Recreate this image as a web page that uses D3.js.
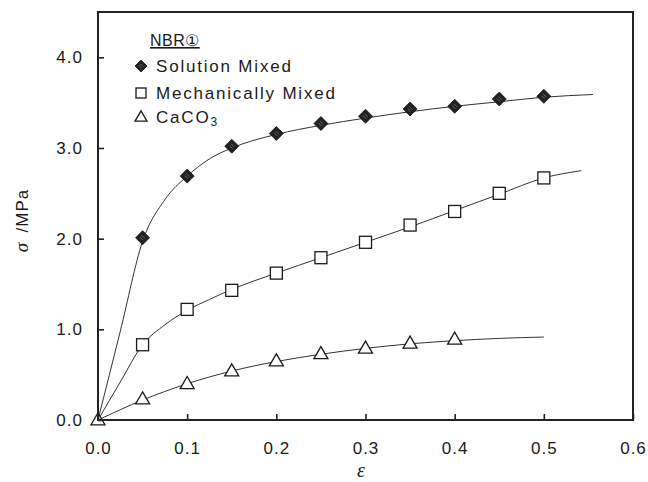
<!DOCTYPE html>
<html>
<head>
<meta charset="utf-8">
<script src="https://cdn.jsdelivr.net/npm/d3@7/dist/d3.min.js"></script>
<style>
  html, body { margin: 0; padding: 0; background: #fff; }
  svg { display: block; }
  text { font-family: "Liberation Sans", Arial, sans-serif; fill: #1a1a1a; }
</style>
</head>
<body>
<svg id="chart" width="648" height="482"></svg>
<script>
// Strain values for measured points
const strain = [0.05, 0.10, 0.15, 0.20, 0.25, 0.30, 0.35, 0.40, 0.45, 0.50];
// Measured stress (MPa)
const solutionMixed = [2.01, 2.69, 3.02, 3.16, 3.27, 3.35, 3.43, 3.46, 3.54, 3.57];
const mechanicallyMixed = [0.83, 1.22, 1.43, 1.62, 1.79, 1.96, 2.15, 2.30, 2.50, 2.67];
const caco3Strain = [0.00, 0.05, 0.10, 0.15, 0.20, 0.25, 0.30, 0.35, 0.40];
const caco3 = [0.00, 0.23, 0.40, 0.54, 0.65, 0.73, 0.79, 0.845, 0.89];

// Fitted curves (strain, stress)
const solutionFitX = [0, 0.025, 0.05, 0.075, 0.10, 0.125, 0.15, 0.20, 0.25, 0.30, 0.35, 0.40, 0.45, 0.50, 0.555];
const solutionFitY = [0, 0.98, 1.97, 2.43, 2.69, 2.88, 3.00, 3.15, 3.25, 3.33, 3.40, 3.46, 3.51, 3.56, 3.59];
const mechanicalFitX = [0, 0.025, 0.05, 0.075, 0.10, 0.125, 0.15, 0.20, 0.25, 0.30, 0.35, 0.40, 0.45, 0.50, 0.542];
const mechanicalFitY = [0, 0.42, 0.83, 1.05, 1.21, 1.33, 1.44, 1.62, 1.79, 1.96, 2.13, 2.31, 2.49, 2.67, 2.75];
const caco3FitX = [0, 0.05, 0.10, 0.15, 0.20, 0.25, 0.30, 0.35, 0.40, 0.45, 0.50];
const caco3FitY = [0, 0.22, 0.40, 0.54, 0.645, 0.725, 0.79, 0.84, 0.875, 0.90, 0.915];

// Axis ticks
const xTicks = [0.0, 0.1, 0.2, 0.3, 0.4, 0.5, 0.6];
const yTicks = [0.0, 1.0, 2.0, 3.0, 4.0];

// Legend entries
const legendTitle = "NBR\u2460";
const legendLabels = ["Solution Mixed", "Mechanically Mixed", "CaCO"];

const svg = d3.select("#chart");
const plotLeft = 98, plotRight = 633, plotTop = 12, plotBottom = 420;

const x = d3.scaleLinear().domain([0, 0.6]).range([plotLeft, plotRight]);
const y = d3.scaleLinear().domain([0, 4.5]).range([plotBottom, plotTop]);

const ink = "#1a1a1a";

// Fitted curves
const line = d3.line().x(d => x(d[0])).y(d => y(d[1])).curve(d3.curveMonotoneX);
const fits = [
  d3.zip(solutionFitX, solutionFitY),
  d3.zip(mechanicalFitX, mechanicalFitY),
  d3.zip(caco3FitX, caco3FitY)
];
svg.append("g").selectAll("path").data(fits).join("path")
  .attr("d", line)
  .attr("fill", "none")
  .attr("stroke", "#333")
  .attr("stroke-width", 1);

// Marker shapes
function diamond(g, cx, cy, r) {
  g.append("path")
    .attr("d", `M${cx},${cy - r}L${cx + r},${cy}L${cx},${cy + r}L${cx - r},${cy}Z`)
    .attr("fill", "#222").attr("stroke", "#111").attr("stroke-width", 0.8);
  g.append("path")
    .attr("d", `M${cx - r * 0.35},${cy - r * 0.1}L${cx + r * 0.1},${cy + r * 0.35}M${cx - r * 0.1},${cy - r * 0.35}L${cx + r * 0.35},${cy + r * 0.1}`)
    .attr("stroke", "#777").attr("stroke-width", 0.8).attr("fill", "none");
}
function square(g, cx, cy, s) {
  g.append("rect")
    .attr("x", cx - s / 2).attr("y", cy - s / 2)
    .attr("width", s).attr("height", s)
    .attr("fill", "#fff").attr("stroke", ink).attr("stroke-width", 1.3);
}
function triangle(g, cx, cy, w) {
  const h = w * 0.86;
  g.append("path")
    .attr("d", `M${cx},${cy - h * 0.6}L${cx + w / 2},${cy + h * 0.4}L${cx - w / 2},${cy + h * 0.4}Z`)
    .attr("fill", "#fff").attr("stroke", ink).attr("stroke-width", 1.3)
    .attr("stroke-linejoin", "miter");
}

const marks = svg.append("g");
strain.forEach((s, i) => diamond(marks, x(s), y(solutionMixed[i]), 7));
strain.forEach((s, i) => square(marks, x(s), y(mechanicallyMixed[i]), 12));
caco3Strain.forEach((s, i) => triangle(marks, x(s), y(caco3[i]), 14));

// Frame
svg.append("rect")
  .attr("x", plotLeft).attr("y", plotTop)
  .attr("width", plotRight - plotLeft).attr("height", plotBottom - plotTop)
  .attr("fill", "none").attr("stroke", "#222").attr("stroke-width", 2);

// Inward ticks
const xAxis = d3.axisBottom(x).tickValues(xTicks).tickSize(-6).tickFormat(d3.format(".1f")).tickPadding(22);
const gx = svg.append("g").attr("transform", `translate(0,${plotBottom})`).call(xAxis);
gx.select(".domain").remove();
gx.selectAll(".tick line").attr("stroke", "#222").attr("stroke-width", 1.6);
gx.selectAll(".tick text")
  .attr("font-size", 17).attr("letter-spacing", 1).attr("fill", ink)
  .style("font-family", "'Liberation Sans', Arial, sans-serif");

const yAxis = d3.axisLeft(y).tickValues(yTicks).tickSize(-6).tickFormat(d3.format(".1f")).tickPadding(15);
const gy = svg.append("g").attr("transform", `translate(${plotLeft},0)`).call(yAxis);
gy.select(".domain").remove();
gy.selectAll(".tick line").attr("stroke", "#222").attr("stroke-width", 1.6);
gy.selectAll(".tick text")
  .attr("font-size", 17).attr("letter-spacing", 1).attr("fill", ink)
  .style("font-family", "'Liberation Sans', Arial, sans-serif");

// Axis titles
const yt = svg.append("text")
  .attr("transform", `translate(28,${y(2.2)}) rotate(-90)`)
  .attr("text-anchor", "middle")
  .attr("font-size", 17).attr("letter-spacing", 1);
yt.append("tspan").attr("font-style", "italic").style("font-family", "'Liberation Serif', serif").attr("font-size", 19).text("\u03C3");
yt.append("tspan").text("\u2002/MPa");

svg.append("text")
  .attr("x", x(0.295)).attr("y", 477)
  .attr("text-anchor", "middle")
  .attr("font-size", 20).attr("font-style", "italic")
  .style("font-family", "'Liberation Serif', serif")
  .text("\u03B5");

// Legend
const lg = svg.append("g");
lg.append("text").attr("x", 150).attr("y", 46)
  .attr("font-size", 16).attr("letter-spacing", 0.5)
  .attr("text-decoration", "underline")
  .text(legendTitle);
const rowY = [66, 93, 117];
diamond(lg, 141, rowY[0], 6);
square(lg, 141, rowY[1], 10);
triangle(lg, 141, rowY[2], 12);
legendLabels.forEach((t, i) => {
  const tx = lg.append("text").attr("x", 156).attr("y", rowY[i] + 6)
    .attr("font-size", 17).attr("letter-spacing", 1.8).text(t);
  if (i === 2) {
    tx.append("tspan").attr("font-size", 12).attr("dy", 3).text("3");
  }
});
</script>
</body>
</html>
